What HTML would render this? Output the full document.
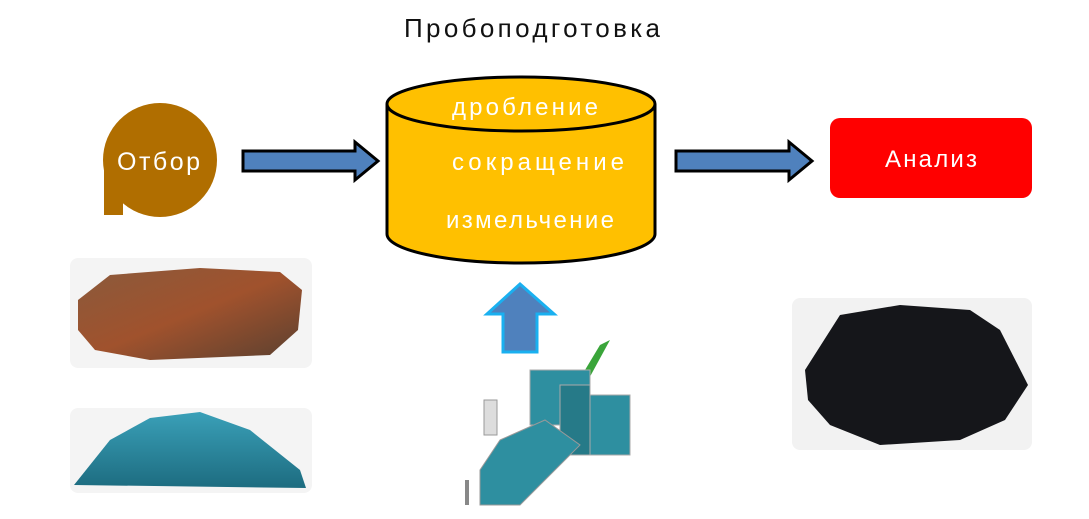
<!DOCTYPE html>
<html><head><meta charset="utf-8"><style>
body{margin:0;background:#fff;width:1089px;height:519px;overflow:hidden}
svg{display:block}
text{font-family:"Liberation Sans","DejaVu Sans",sans-serif}
</style></head><body>
<svg width="1089" height="519" viewBox="0 0 1089 519">
<defs>
<linearGradient id="rk" x1="0" y1="0" x2="1" y2="1"><stop offset="0" stop-color="#8a5a3c"/><stop offset=".5" stop-color="#a0522d"/><stop offset="1" stop-color="#5a4030"/></linearGradient>
<linearGradient id="bl" x1="0" y1="0" x2="0" y2="1"><stop offset="0" stop-color="#3aa0b8"/><stop offset="1" stop-color="#1d6c80"/></linearGradient>
</defs>
<text x="404" y="37" font-size="26" fill="#111" textLength="256" lengthAdjust="spacing">Пробоподготовка</text>
<!-- Otbor -->
<circle cx="160" cy="160" r="57" fill="#b06e00"/>
<rect x="104" y="160" width="19" height="55" fill="#b06e00"/>
<text x="117" y="170" font-size="25" fill="#fff" textLength="83" lengthAdjust="spacing">Отбор</text>
<!-- arrows -->
<polygon points="243,151 355,151 355,142 378,161 355,180 355,171 243,171" fill="#4f81bd" stroke="#000" stroke-width="3"/>
<polygon points="676,151 789,151 789,142 812,161 789,180 789,171 676,171" fill="#4f81bd" stroke="#000" stroke-width="3"/>
<!-- cylinder -->
<path d="M387,104 L387,234 A134,29 0 0 0 655,234 L655,104" fill="#ffc000" stroke="#000" stroke-width="3"/>
<ellipse cx="521" cy="104" rx="134" ry="27" fill="#ffc000" stroke="#000" stroke-width="3"/>
<text x="452" y="115" font-size="24" fill="#fff" textLength="146" lengthAdjust="spacing">дробление</text>
<text x="452" y="170" font-size="24" fill="#fff" textLength="172" lengthAdjust="spacing">сокращение</text>
<text x="446" y="228" font-size="24" fill="#fff" textLength="168" lengthAdjust="spacing">измельчение</text>
<!-- Analiz -->
<rect x="830" y="118" width="202" height="80" rx="10" fill="#ff0000"/>
<text x="885" y="167" font-size="24" fill="#fff" textLength="92" lengthAdjust="spacing">Анализ</text>
<!-- up arrow -->
<polygon points="520,284 554,314 537,314 537,352 503,352 503,314 487,314" fill="#4f81bd" stroke="#1ab0f0" stroke-width="3"/>
<!-- rock -->
<rect x="70" y="258" width="242" height="110" rx="8" fill="#f4f4f4"/>
<path d="M78,300 L110,275 L200,268 L280,272 L302,290 L298,330 L270,355 L150,360 L95,350 L78,330Z" fill="url(#rk)"/>
<!-- blue pile -->
<rect x="70" y="408" width="242" height="85" rx="8" fill="#f4f4f4"/>
<path d="M74,485 L110,440 L150,418 L200,412 L250,430 L300,470 L306,488 Z" fill="url(#bl)"/>
<!-- coal -->
<rect x="792" y="298" width="240" height="152" rx="8" fill="#f2f2f2"/>
<path d="M805,370 L840,315 L900,305 L970,310 L1000,330 L1028,385 L1005,420 L960,440 L880,445 L830,425 L808,400Z" fill="#15161a"/>
<!-- machine -->
<polygon points="600,345 610,340 580,395 570,395" fill="#3aa53a"/>
<rect x="530" y="370" width="60" height="55" fill="#2e8fa0" stroke="#aaa"/>
<rect x="580" y="395" width="50" height="60" fill="#2e8fa0" stroke="#aaa"/>
<rect x="560" y="385" width="30" height="70" fill="#267a88" stroke="#aaa"/>
<polygon points="500,440 545,420 580,445 520,505 480,505 480,470" fill="#2e8fa0" stroke="#999"/>
<rect x="484" y="400" width="13" height="35" fill="#ddd" stroke="#999"/>
<rect x="465" y="480" width="4" height="25" fill="#888"/>
</svg>
</body></html>
